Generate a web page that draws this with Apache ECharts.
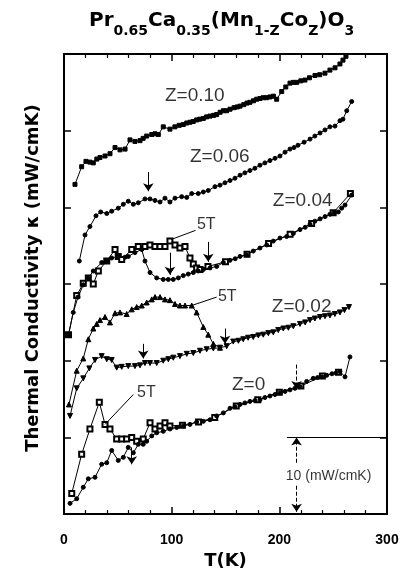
<!DOCTYPE html>
<html>
<head>
<meta charset="utf-8">
<script src="https://cdn.jsdelivr.net/npm/echarts@6/dist/echarts.min.js"></script>
<style>
  html, body { margin: 0; padding: 0; background: #fff; }
  #chart { width: 405px; height: 575px; }
</style>
</head>
<body>
<div id="chart"></div>
<script>
// T (K), kappa (mW/cmK) with the vertical offsets of the original figure
const z10 = [[10.2,43.0],[16.4,45.3],[20.4,46.0],[24,45.9],[27.2,45.8],[30.5,46.3],[33.4,46.5],[38.1,46.7],[42.7,47.0],[47.4,47.8],[52.0,47.5],[56.7,47.6],[61.3,48.8],[65.9,48.6],[70.6,48.7],[73.5,49.0],[76.8,49.3],[81.5,49.5],[84.5,49.6],[87.6,49.5],[92.2,50.5],[98.4,50.2],[103.0,50.5],[107,50.7],[110.8,50.8],[114,51.0],[117.0,51.1],[120,51.2],[123.2,51.4],[126,51.5],[129.4,51.6],[132.5,51.8],[135.6,51.9],[139,52.0],[141.8,52.1],[145,52.4],[148.0,52.6],[151,52.6],[154.2,52.8],[158,53.0],[161,53.1],[163.5,53.2],[167,53.4],[170,53.6],[172.7,53.7],[176,53.9],[179,54.1],[182.0,54.2],[185,54.3],[188,54.3],[191.3,54.4],[194.5,54.5],[197.5,54.1],[202.2,55.1],[206,55.7],[209.9,56.2],[213,56.3],[216.1,56.3],[220,56.5],[223.8,56.6],[228,56.9],[233.1,57.2],[237.5,57.3],[242.4,57.5],[247,57.9],[251.7,58.2],[256.3,58.7],[259.1,59.2],[261.9,59.7]];

const z06 = [[14.2,33.0],[19.5,36.4],[24.1,37.5],[29.7,38.9],[34.1,39.4],[39.7,39.2],[44.3,39.5],[50.4,39.9],[55.1,40.4],[59.7,40.8],[64.4,40.4],[69.0,40.6],[75.2,41.1],[79.9,41.1],[84.5,40.9],[89.2,40.7],[93.8,41.2],[98.4,40.7],[103.1,41.2],[109.3,41.4],[114.0,41.3],[118.6,41.8],[124.7,41.8],[129.4,42.0],[134.0,42.2],[140.2,42.7],[144.9,42.9],[149.5,43.2],[154.2,43.5],[158.8,43.8],[163.5,44.2],[168,44.5],[172.7,44.8],[177.3,45.1],[182.0,45.5],[186.6,45.8],[191.3,46.1],[196,46.4],[200.6,46.7],[205.3,47.2],[209.9,47.6],[213.6,47.8],[217.3,48.1],[223,48.5],[228.5,48.9],[233,49.3],[237.8,49.7],[242.4,50.1],[247.0,50.5],[251.7,50.6],[256.3,51.3],[259.1,51.5],[262.6,52.6],[267.2,53.8]];

const z04 = [[4.2,23.4],[8.6,26.3],[13,28.3],[17.9,29.9],[22.6,30.8],[27.2,31.7],[35,32.8],[39.7,33.0],[44.3,33.4],[50.4,33.6],[56.7,33.5],[59.7,33.6],[65.9,34.1],[72.2,34.5],[75.2,33.0],[79.9,31.5],[86.1,30.8],[92.2,30.6],[96.9,30.6],[101.5,30.6],[106.2,30.8],[110.8,31.1],[115.4,31.3],[120.1,31.5],[124.7,31.7],[129.4,31.9],[135.6,32.1],[141.8,32.3],[148,32.8],[154.2,33.1],[159,33.3],[163.5,33.6],[169.7,33.8],[175.8,34.3],[182,34.7],[188.3,35.1],[194.4,35.6],[200.6,36.0],[206.8,36.2],[213,36.6],[219.2,37.1],[224,37.4],[228.5,37.8],[233,38.2],[237.8,38.5],[242.5,38.8],[247,39.1],[251,39.3],[254.8,39.4],[257.9,39.9],[261,40.3],[267.2,41.6]];

const z04h = [[4.2,23.4],[11.8,28.5],[17.9,30.1],[22.6,30.8],[27.2,30.0],[31.9,31.7],[39.7,33.0],[47.4,34.5],[50.4,33.6],[53.6,33.2],[62.9,34.5],[69,34.9],[75.2,34.9],[79.9,35.1],[84.5,34.9],[89.2,34.9],[93.8,34.9],[98.4,35.6],[103.1,35.1],[107.7,34.7],[112.4,34.9],[117,33.4],[120.1,32.6],[123.2,32.1],[126.3,31.9],[133.7,32.3],[150,32.9],[170,33.9],[190,35.3],[210,36.5],[230,37.9],[250,39.3],[266,41.8]];

const z02 = [[5.6,12.8],[11.8,16.4],[17.9,17.7],[23.5,19.0],[28.8,20.1],[35,20.6],[39.7,20.2],[44.3,20.1],[48.9,19.1],[53.6,19.2],[59.7,19.3],[65.9,19.3],[70.6,19.4],[75.2,19.7],[79.9,19.7],[86.1,19.7],[92.2,20.0],[96.9,20.2],[101.5,20.4],[107.7,20.6],[114,20.9],[120.1,21.0],[126.3,21.3],[132.5,21.5],[138.7,21.6],[144.9,21.7],[151.1,21.9],[157.2,22.5],[162,22.6],[166.5,22.8],[171,23.0],[175.8,23.1],[180.5,23.3],[185.1,23.4],[189.8,23.6],[194.4,23.7],[199,24.0],[203.7,24.2],[208.4,24.3],[213,24.5],[219.2,24.8],[224,25.0],[228.5,25.3],[233,25.5],[237.8,25.7],[242.4,25.8],[247,25.9],[251.6,26.1],[256.3,26.3],[260.5,26.6],[264.7,27.0]];

const z02h = [[4.6,14.3],[11.8,18.7],[17.9,20.3],[22.6,22.8],[27.2,24.2],[30.4,24.8],[33.4,25.3],[38.1,25.7],[42.7,25.0],[47.4,26.2],[52,26.3],[58.2,26.1],[62.9,26.7],[67.5,27.0],[72.2,27.2],[76.8,27.6],[81.5,28.0],[84.5,28.3],[89.2,28.3],[93.8,28.0],[98.4,27.9],[103.1,27.4],[107.7,27.2],[112.4,27.2],[118.6,27.2],[123.2,26.3],[129.4,24.4],[134,23.4],[138.7,22.2],[144.9,21.7]];

const z00 = [[5.6,1.4],[11.8,2.0],[17.9,3.5],[22.6,4.6],[28.8,4.8],[35,6.5],[39.7,6.7],[44.3,8.3],[50.4,7.0],[55.1,7.4],[59.7,8.7],[64.4,8.0],[69,9.1],[73.6,9.1],[76.8,9.5],[81.5,10.2],[86.1,10.6],[92.2,10.8],[98.4,11.1],[104.7,11.3],[110.8,11.5],[117,11.7],[123.2,12.0],[129.4,12.1],[135.6,12.3],[141.8,12.8],[148,13.2],[154.2,13.8],[158.8,14.0],[163.5,14.3],[168,14.5],[172.7,14.7],[177.3,14.8],[182,14.9],[186.6,15.2],[191.3,15.4],[196,15.6],[200.6,15.8],[205.3,16.0],[209.9,16.2],[214.5,16.4],[219.2,16.6],[225.4,17.3],[231.5,17.7],[235.5,17.8],[239.6,17.9],[244,18.1],[248.9,18.3],[252.5,18.4],[256.3,18.6],[261,17.9],[265.6,20.5]];

const z00h = [[7.2,2.7],[16.4,7.8],[24.1,11.1],[32.8,14.6],[38.1,11.7],[42.7,11.1],[48.9,9.8],[53.6,9.8],[58.2,9.8],[62.9,10.0],[67.5,9.5],[73.6,9.8],[79.9,11.9],[84.5,11.1],[89.2,11.5],[93.8,11.9],[98.4,11.5],[110,11.6],[125,12.0],[140,12.6],[160,14.1],[180,14.9],[200,15.9],[220,16.7],[240,18.0],[255,18.5]];

// annotations (T, kappa)
const labelText = ["Z=0.10", "Z=0.06", "Z=0.04", "5T", "5T", "Z=0.02", "5T", "Z=0", "10 (mW/cmK)"];
const labelT = [93.8, 117, 194, 123.5, 143, 193, 67.8, 156, 206];
const labelK = [54.5, 46.6, 40.8, 37.8, 28.3, 27.0, 15.9, 16.9, 5.0];

const arrowT = [78.3, 98.4, 134, 73.6, 149.5, 62.9];
const arrowTop = [44.6, 34.1, 35.5, 22.2, 24.2, 8.7];
const arrowTip = [42.1, 31.2, 32.9, 20.3, 22.2, 6.5];

// dashed arrows: Z=0 transition and the 10 mW/cmK scale bar
const dashArrows = [[[216, 19.5], [216, 16.3]], [[216, 6.7], [216, 10]], [[216, 3.7], [216, 0.3]]];
const leaders = [[[122.2, 37.0], [99.4, 35.8]], [[141.8, 28.3], [118.6, 27.2]], [[64.4, 15.6], [38.1, 11.7]], [[207, 10], [300, 10]]];

const chart = echarts.init(document.getElementById("chart"));

function lineSeries(data, symbol, extra) {
  return Object.assign({
    type: "line",
    data: data,
    symbol: symbol,
    symbolSize: 4,
    lineStyle: { color: "#000", width: 1 },
    itemStyle: { color: "#000", borderColor: "#000", borderWidth: 1 },
    animation: false,
    silent: true,
    z: 3,
  }, extra || {});
}

const axisCommon = {
  axisLine: { show: true, onZero: false, lineStyle: { color: "#000", width: 2 } },
  axisTick: { show: true, inside: true, length: 7, lineStyle: { color: "#000", width: 1.5 } },
  splitLine: { show: false },
};

const sansBold = "DejaVu Sans";

const option = {
  backgroundColor: "#fff",
  animation: false,
  title: {
    text: "{m|Pr}{s|0.65}{m|Ca}{s|0.35}{m|(Mn}{s|1-Z}{m|Co}{s|Z}{m|)O}{s|3}",
    left: 84,
    top: 6,
    textStyle: {
      rich: {
        m: { fontFamily: sansBold, fontWeight: "bold", fontSize: 20, color: "#000", verticalAlign: "bottom", padding: [0, 0, 7, 0] },
        s: { fontFamily: sansBold, fontWeight: "bold", fontSize: 14, color: "#000", verticalAlign: "bottom" },
      },
    },
  },
  grid: { left: 64, right: 18, top: 54, bottom: 56 },
  xAxis: [
    Object.assign({}, axisCommon, {
      type: "value", min: 0, max: 300, interval: 100, position: "bottom",
      minorTick: { show: true, splitNumber: 5, length: 4, lineStyle: { color: "#000", width: 1.2 } },
      minorSplitLine: { show: false },
      axisLabel: { margin: 19, fontSize: 14, fontWeight: "bold", color: "#000", fontFamily: "Liberation Sans" },
      name: "T(K)", nameLocation: "middle", nameGap: 30,
      nameTextStyle: { fontFamily: sansBold, fontWeight: "bold", fontSize: 18, color: "#000" },
    }),
    Object.assign({}, axisCommon, {
      type: "value", min: 0, max: 300, interval: 100, position: "top",
      minorTick: { show: true, splitNumber: 5, length: 4, lineStyle: { color: "#000", width: 1.2 } },
      axisLabel: { show: false },
    }),
  ],
  yAxis: [
    Object.assign({}, axisCommon, {
      type: "value", min: 0, max: 60, interval: 10, position: "left",
      axisLabel: { show: false },
      name: "Thermal Conductivity κ (mW/cmK)", nameLocation: "middle", nameGap: 22,
      nameTextStyle: { fontFamily: sansBold, fontWeight: "bold", fontSize: 18, color: "#000", padding: [0, 0, 0, 12] },
    }),
    Object.assign({}, axisCommon, {
      type: "value", min: 0, max: 60, interval: 10, position: "right",
      axisLabel: { show: false },
    }),
  ],
  series: [
    lineSeries(z10, "rect"),
    lineSeries(z06, "circle"),
    lineSeries(z04h, "emptyRect", { symbolSize: 5 }),
    lineSeries(z04, "circle"),
    lineSeries(z02, "triangle", { symbolRotate: 180, symbolSize: 5 }),
    lineSeries(z02h, "triangle", { symbolSize: 5 }),
    lineSeries(z00h, "emptyRect", { symbolSize: 5 }),
    lineSeries(z00, "circle"),
    {
      type: "scatter",
      symbolSize: 0,
      silent: true,
      animation: false,
      data: labelText.map((t, i) => ({
        name: t,
        value: [labelT[i], labelK[i]],
        label: {
          show: true,
          position: "right",
          distance: 0,
          formatter: "{b}",
          color: "#000",
          fontFamily: "Liberation Sans",
          fontSize: t === "5T" ? 16 : (t.charAt(0) === "Z" ? 19 : 14),
        },
      })),
      markLine: {
        silent: true,
        animation: false,
        symbol: ["none", "arrow"],
        symbolSize: 8,
        label: { show: false },
        lineStyle: { color: "#000", width: 1, type: "solid" },
        data: arrowT.map((t, i) => [{ coord: [t, arrowTop[i]] }, { coord: [t, arrowTip[i]] }])
          .concat(dashArrows.map(a => [{ coord: a[0], lineStyle: { type: "dashed" } }, { coord: a[1] }]))
          .concat(leaders.map(a => [{ coord: a[0], symbol: "none" }, { coord: a[1], symbol: "none" }])),
      },
    },
  ],
};

chart.setOption(option);
</script>
</body>
</html>
